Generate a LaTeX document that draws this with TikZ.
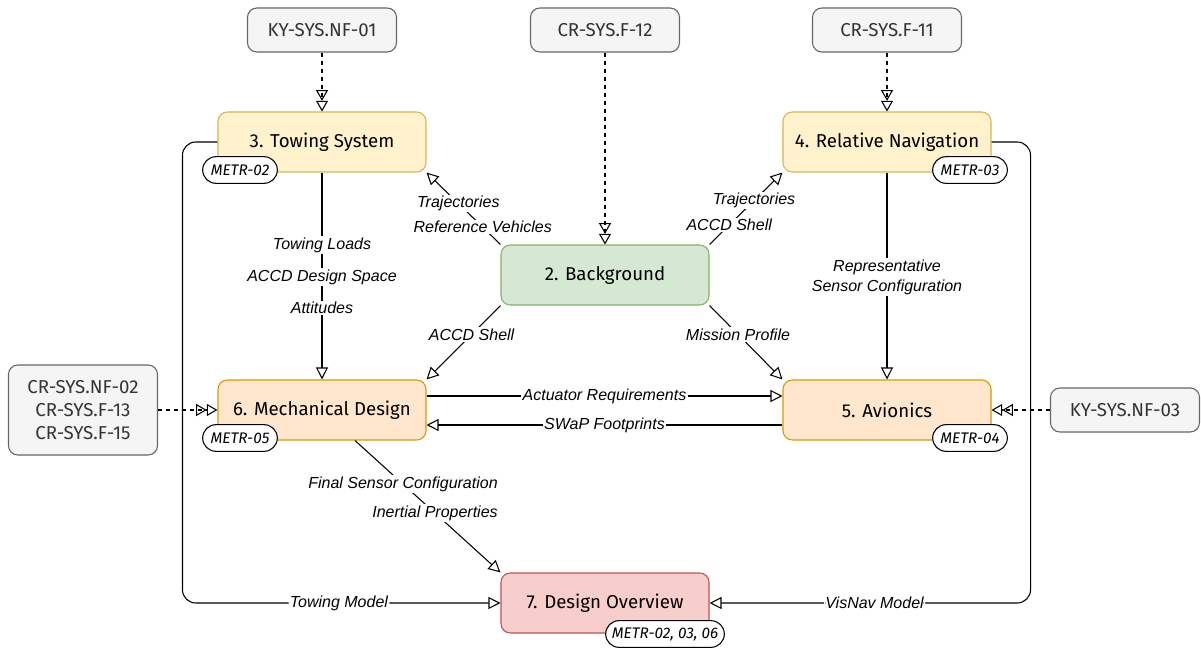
\documentclass[tikz,border=0pt]{standalone}
\usepackage{fontspec}
\setmainfont{Fira Sans}
\newfontfamily\edgefont{Liberation Sans}
\usepackage{tikz}
\usetikzlibrary{arrows.meta,calc}

\definecolor{yelfill}{HTML}{FFF2CC}
\definecolor{yelline}{HTML}{D6B656}
\definecolor{grnfill}{HTML}{D5E8D4}
\definecolor{grnline}{HTML}{82B366}
\definecolor{orgfill}{HTML}{FFE6CC}
\definecolor{orgline}{HTML}{D79B00}
\definecolor{redfill}{HTML}{F8CECC}
\definecolor{redline}{HTML}{B85450}
\definecolor{gryfill}{HTML}{F5F5F5}
\definecolor{gryline}{HTML}{666666}
\definecolor{grytext}{HTML}{333333}

\begin{document}
\begin{tikzpicture}[x=0.75pt,y=-0.75pt]
    \tikzset { block/.style = { shape=rectangle,draw,rounded corners=7,line width=0.8pt,minimum width=156pt,minimum height=45pt,font=\fontsize{14}{17}\selectfont } }
    \tikzset { req/.style = { shape=rectangle,draw=gryline,fill=gryfill,text=grytext,rounded corners=7,line width=0.8pt,minimum width=111.75pt,minimum height=33pt,align=center,font=\fontsize{14}{17}\selectfont } }
    \tikzset { tag/.style = { shape=rectangle,draw,fill=white,rounded corners=10,line width=0.8pt,minimum width=56pt,minimum height=20pt,inner sep=2pt,font=\fontsize{11.5}{13}\selectfont\itshape } }
    \tikzset { lbl/.style = { fill=white,inner sep=1pt,align=center,font=\edgefont\fontsize{12}{15}\selectfont\itshape } }
    \tikzset { edge/.style = { -{Triangle[open,length=9pt,width=9pt]},line width=0.8pt } }
    \tikzset { trace/.style = { -{Triangle[open,length=8pt,width=9pt]Triangle[open,length=8pt,width=9pt]},dashed,line width=0.8pt } }

    \useasboundingbox (0,0) rectangle (1201,648);

    % requirements
    \node[req] (kyA) at (322,30) {KY-SYS.NF-01};
    \node[req] (crA) at (605,30) {CR-SYS.F-12};
    \node[req] (crB) at (887,30) {CR-SYS.F-11};
    \node[req,minimum height=67.5pt] (crC) at (83,410) {CR-SYS.NF-02\\CR-SYS.F-13\\CR-SYS.F-15};
    \node[req] (kyB) at (1125,410) {KY-SYS.NF-03};

    % work packages
    \node[block,draw=yelline,fill=yelfill] (tow) at (322,142) {3. Towing System};
    \node[block,draw=yelline,fill=yelfill] (nav) at (887,142) {4. Relative Navigation};
    \node[block,draw=grnline,fill=grnfill] (bg) at (605,275) {2. Background};
    \node[block,draw=orgline,fill=orgfill] (mech) at (322,410) {6. Mechanical Design};
    \node[block,draw=orgline,fill=orgfill] (avi) at (887,410) {5. Avionics};
    \node[block,draw=redline,fill=redfill] (dov) at (605,603) {7. Design Overview};

    \node[tag] (tagT) at (240,170) {METR-02};
    \node[tag] (tagN) at (970,170) {METR-03};
    \node[tag] (tagM) at (240,438) {METR-05};
    \node[tag] (tagA) at (970,438) {METR-04};
    \node[tag,minimum width=89pt] (tagD) at (665,634) {METR-02, 03, 06};

    % traces
    \draw[trace] (kyA) to (tow);
    \draw[trace] (crA) to (bg);
    \draw[trace] (crB) to (nav);
    \draw[trace] (crC) to (mech);
    \draw[trace] (kyB) to (avi);

    % flows
    \draw[edge] (bg.north west) -- node[lbl,pos=0.24] {Reference Vehicles} node[lbl,pos=0.57] {Trajectories} (tow.south east);
    \draw[edge] (bg.north east) -- node[lbl,pos=0.27] {ACCD Shell} node[lbl,pos=0.61] {Trajectories} (nav.south west);
    \draw[edge] (tow) -- node[lbl,pos=0.35] {Towing Loads} node[lbl,pos=0.505] {ACCD Design Space} node[lbl,pos=0.654] {Attitudes} (mech);
    \draw[edge] (bg.south west) -- node[lbl,pos=0.39] {ACCD Shell} (mech.north east);
    \draw[edge] (bg.south east) -- node[lbl,pos=0.39] {Mission Profile} (avi.north west);
    \draw[edge] (nav) -- node[lbl,pos=0.505] {Representative\\Sensor Configuration} (avi);
    \draw[edge] ($(mech.east)+(0,-14)$) -- node[lbl] {Actuator Requirements} ($(avi.west)+(0,-14)$);
    \draw[edge] ($(avi.west)+(0,15)$) -- node[lbl] {SWaP Footprints} ($(mech.east)+(0,15)$);
    \draw[edge] ($(mech.south)+(33,0)$) -- node[lbl,pos=0.33] {Final Sensor Configuration} node[lbl,pos=0.55] {Inertial Properties} (dov.north west);
    \draw[edge,rounded corners=10] (tow.west) -- ++(-35,0) |- node[lbl,pos=0.746] {Towing Model} (dov.west);
    \draw[edge,rounded corners=10] (nav.east) -- ++(39,0) |- node[lbl,pos=0.743] {VisNav Model} (dov.east);

\end{tikzpicture}
\end{document}
